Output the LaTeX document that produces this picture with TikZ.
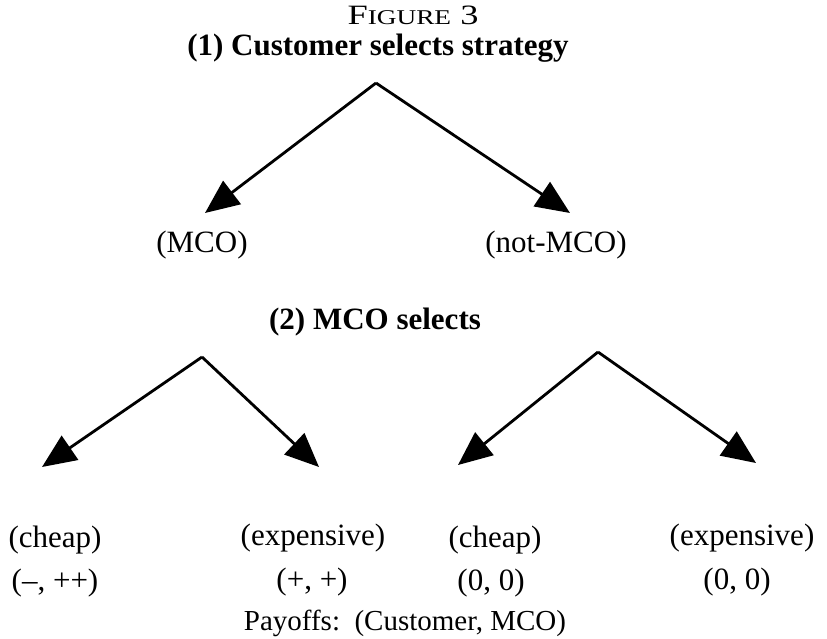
\documentclass[tikz,border=0pt]{standalone}
\usepackage{fontspec}
\setmainfont{Liberation Serif}
\usetikzlibrary{arrows.meta}
\tikzset{
  lbl/.style={font=\fontsize{31}{34}\selectfont, inner sep=0pt, anchor=center},
  note/.style={font=\fontsize{29}{32}\selectfont, inner sep=0pt, anchor=center},
  head/.style={font=\fontsize{31}{34}\selectfont\bfseries, inner sep=0pt, anchor=center},
  figcaption/.style={font=\fontsize{28}{30}\selectfont, inner sep=0pt, anchor=center},
  branch/.style={line width=2.8pt, -{Triangle[length=34pt,width=29pt]}}
}
\begin{document}
\begin{tikzpicture}[x=1pt,y=-1pt]
\useasboundingbox (0,0) rectangle (827,638);

% caption and stage headings
\node[figcaption] (fig) at (413,15) {\scalebox{1.3}[1]{F{\fontsize{21}{22}\selectfont IGURE} 3}};
\node[head] (stage1) at (378,48) {(1) Customer selects strategy};
\node[head] (stage2) at (375,322) {(2) MCO selects};

% stage 1 branches
\coordinate (r1) at (376,83);
\coordinate (t1a) at (205,213);
\coordinate (t1b) at (570,213);
\draw[branch] (r1) -- (t1a);
\draw[branch] (r1) -- (t1b);
\node[lbl] (mco) at (202,245) {(MCO)};
\node[lbl] (nmco) at (556,245) {(not-MCO)};

% stage 2 branches, left tree
\coordinate (r2) at (202,357);
\coordinate (t2a) at (42,467);
\coordinate (t2b) at (319,467);
\draw[branch] (r2) -- (t2a);
\draw[branch] (r2) -- (t2b);

% stage 2 branches, right tree
\coordinate (r3) at (598,352);
\coordinate (t3a) at (458,465);
\coordinate (t3b) at (756,463);
\draw[branch] (r3) -- (t3a);
\draw[branch] (r3) -- (t3b);

% outcomes
\node[lbl] (c1) at (55,540) {(cheap)};
\node[lbl] (e1) at (313,538) {(expensive)};
\node[lbl] (c2) at (495,540) {(cheap)};
\node[lbl] (e2) at (742,538) {(expensive)};

% payoffs
\node[lbl] (p1) at (55,583) {(--, ++)};
\node[lbl] (p2) at (312,582) {(+, +)};
\node[lbl] (p3) at (491,583) {(0, 0)};
\node[lbl] (p4) at (737,582) {(0, 0)};

\node[note] (legend) at (405,623) {Payoffs:\ \ (Customer, MCO)};
\end{tikzpicture}
\end{document}
